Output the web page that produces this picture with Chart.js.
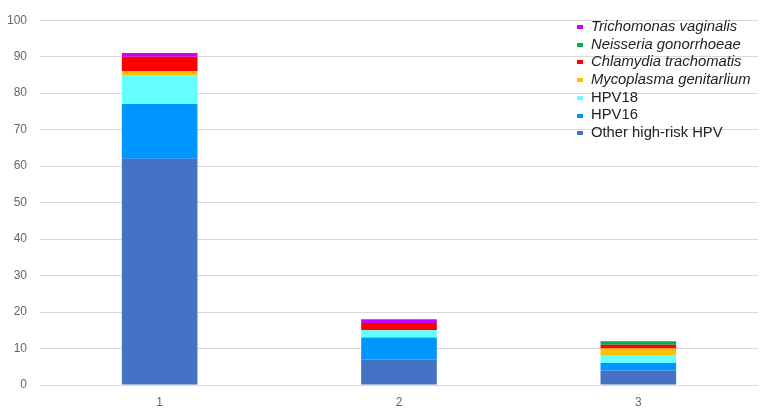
<!DOCTYPE html>
<html>
<head>
<meta charset="utf-8">
<script src="https://cdn.jsdelivr.net/npm/chart.js@4"></script>
<style>
  body { margin: 0; background: #fff; }
  #wrap { position: relative; width: 764px; height: 412px; }
  #legend {
    position: absolute; left: 577px; top: 18px;
    font-family: "Liberation Sans", Arial, sans-serif; font-size: 14.8px; color: #222;
  }
  #legend div { height: 17.7px; line-height: 17.7px; white-space: nowrap; }
  #legend span.box { display: inline-block; width: 6px; height: 4px; margin-right: 8px; vertical-align: middle; }
</style>
</head>
<body>
<div id="wrap">
  <canvas id="chart"></canvas>
  <div id="legend"></div>
</div>
<script>
// categories and stacked values (bottom to top)
var categories = ['1', '2', '3'];
var otherHpv = [62, 7, 4];
var hpv16 = [15, 6, 2];
var hpv18 = [8, 2, 2];
var mycoplasma = [1, 0, 2];
var chlamydia = [4, 2, 1];
var neisseria = [0, 0, 1];
var trichomonas = [1, 1, 0];

var series = [
    { label: 'Other high-risk HPV', data: otherHpv, color: '#4472C4', italic: false },
    { label: 'HPV16', data: hpv16, color: '#0096FF', italic: false },
    { label: 'HPV18', data: hpv18, color: '#66FFFF', italic: false },
    { label: 'Mycoplasma genitarlium', data: mycoplasma, color: '#FFC000', italic: true },
    { label: 'Chlamydia trachomatis', data: chlamydia, color: '#FF0000', italic: true },
    { label: 'Neisseria gonorrhoeae', data: neisseria, color: '#00B050', italic: true },
    { label: 'Trichomonas vaginalis', data: trichomonas, color: '#CC00FF', italic: true }
];

var chartData = {
    labels: categories,
    datasets: series.map(function(s) {
        return {
            label: s.label,
            data: s.data,
            backgroundColor: s.color,
            borderWidth: 0,
            categoryPercentage: 1.0,
            barPercentage: 0.316
        };
    })
};

var chart = new Chart(document.getElementById('chart'), {
    type: 'bar',
    data: chartData,
    options: {
        animation: false,
        responsive: true,
        maintainAspectRatio: false,
        layout: { padding: { top: 10, right: 6, left: 0, bottom: 0 } },
        plugins: { legend: { display: false }, tooltip: { enabled: false } },
        scales: {
            x: {
                stacked: true,
                grid: { display: false, drawTicks: false },
                border: { display: false },
                ticks: { color: '#666', padding: 10, font: { family: 'Liberation Sans', size: 12 } },
                afterFit: function(axis) { axis.height = 27; }
            },
            y: {
                stacked: true,
                min: 0,
                max: 100,
                ticks: { stepSize: 10, color: '#666', padding: 13, font: { family: 'Liberation Sans', size: 12 } },
                grid: { color: '#D9D9D9', drawTicks: false, lineWidth: 1 },
                border: { display: false },
                afterFit: function(axis) { axis.width = 40; }
            }
        }
    }
});

// legend, top item is the top of the stack
var legendEl = document.getElementById('legend');
series.slice().reverse().forEach(function(s) {
    var row = document.createElement('div');
    var box = document.createElement('span');
    box.className = 'box';
    box.style.background = s.color;
    var txt = document.createElement('span');
    txt.textContent = s.label;
    if (s.italic) txt.style.fontStyle = 'italic';
    row.appendChild(box);
    row.appendChild(txt);
    legendEl.appendChild(row);
});
</script>
</body>
</html>
